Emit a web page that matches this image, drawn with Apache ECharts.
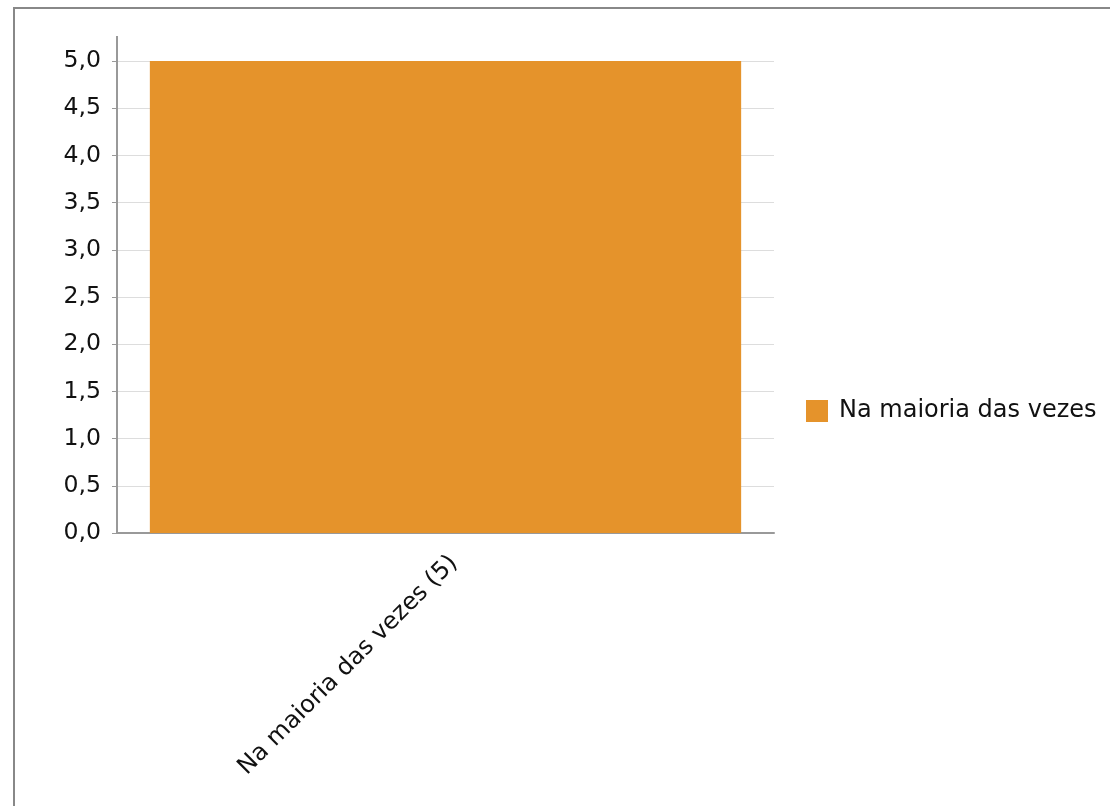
<!DOCTYPE html>
<html><head><meta charset="utf-8">
<script src="https://cdn.jsdelivr.net/npm/echarts@6/dist/echarts.min.js"></script>
<style>html,body{margin:0;padding:0;background:#fff}#c{width:1110px;height:806px}</style>
</head><body><div id="c"></div>
<script>
const categories = ["Na maioria das vezes (5)"];
const seriesName = "Na maioria das vezes";
const values = [5];
const yMin = 0, yMax = 5, yInterval = 0.5;

const chart = echarts.init(document.getElementById('c'));
const font = '"DejaVu Sans", sans-serif';
chart.setOption({
  animation: false,
  textStyle: {fontFamily: font},
  grid: {left: 117, top: 61, right: 336, bottom: 273, containLabel: false},
  legend: {
    orient: 'vertical', left: 806, top: 399, padding: 0,
    itemWidth: 22, itemHeight: 22, itemGap: 10,
    textStyle: {fontFamily: font, fontSize: 24, color: '#111', padding: [0, 0, 0, 6]},
    icon: 'rect',
    data: [seriesName]
  },
  xAxis: {
    type: 'category', data: categories,
    axisLine: {lineStyle: {color: '#999', width: 2}},
    axisTick: {alignWithLabel: true, length: 7, lineStyle: {color: '#999'}},
    axisLabel: {rotate: 45, fontSize: 24, color: '#111', fontFamily: font, margin: 18, verticalAlign: 'top'}
  },
  yAxis: {
    type: 'value', min: yMin, max: yMax, interval: yInterval,
    axisLine: {show: true, lineStyle: {color: '#999', width: 2}},
    axisTick: {show: true, length: 5, lineStyle: {color: '#999'}},
    splitLine: {lineStyle: {color: '#ddd'}},
    axisLabel: {fontSize: 23.6, color: '#111', fontFamily: font, margin: 16, padding: [10, 0, 0, 0],
      formatter: v => v.toFixed(1).replace('.', ',')}
  },
  series: [{
    name: seriesName, type: 'bar', data: values, barWidth: '90%',
    itemStyle: {color: '#E5932B'}
  }]
});
const topPx = chart.convertToPixel({gridIndex: 0}, [0, yMax]);
chart.setOption({
  graphic: [
    {type: 'rect', shape: {x: 14, y: 8, width: 1200, height: 900}, style: {fill: 'none', stroke: '#888', lineWidth: 2}, silent: true},
    {type: 'line', shape: {x1: 117, y1: topPx[1] - 25, x2: 117, y2: topPx[1]}, style: {stroke: '#999', lineWidth: 2}, silent: true}
  ]
});
</script></body></html>
